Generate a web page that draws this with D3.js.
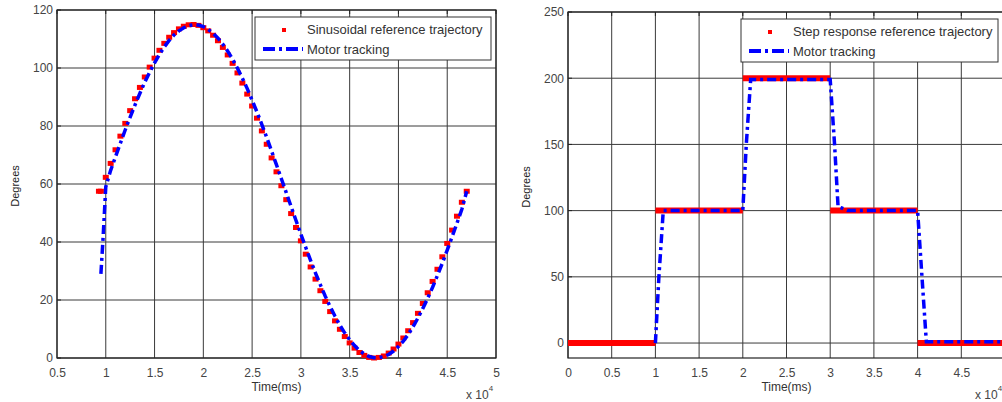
<!DOCTYPE html>
<html>
<head>
<meta charset="utf-8">
<script src="https://cdn.jsdelivr.net/npm/d3@7"></script>
<style>
  body { margin: 0; background: #fff; }
  svg { display: block; font-family: "Liberation Sans", Arial, sans-serif; }
</style>
</head>
<body>
<svg id="chart" width="1002" height="402"></svg>
<script>
// sinusoid reference (time in 1e4 ms, degrees)
var sinRefT = [0.93, 0.95, 1.0, 1.05, 1.1, 1.15, 1.2, 1.25, 1.3, 1.35, 1.4, 1.45, 1.5, 1.55, 1.6, 1.65, 1.7, 1.75, 1.8, 1.85,
  1.9, 1.95, 2.0, 2.05, 2.1, 2.15, 2.2, 2.25, 2.3, 2.35, 2.4, 2.45, 2.5, 2.55, 2.6, 2.65, 2.7, 2.75, 2.8, 2.85,
  2.9, 2.95, 3.0, 3.05, 3.1, 3.15, 3.2, 3.25, 3.3, 3.35, 3.4, 3.45, 3.5, 3.55, 3.6, 3.65, 3.7, 3.75, 3.8, 3.85,
  3.9, 3.95, 4.0, 4.05, 4.1, 4.15, 4.2, 4.25, 4.3, 4.35, 4.4, 4.45, 4.5, 4.55, 4.6, 4.65, 4.7];
var sinRefV = [57.5, 57.5, 62.3, 67.1, 71.8, 76.5, 80.9, 85.3, 89.4, 93.3, 96.9, 100.3, 103.4, 106.1, 108.5, 110.6, 112.2, 113.5, 114.4, 114.9,
  115.0, 114.7, 113.9, 112.8, 111.3, 109.4, 107.1, 104.5, 101.6, 98.3, 94.8, 91.0, 86.9, 82.7, 78.3, 73.7, 69.0, 64.2, 59.4, 54.6,
  49.8, 45.0, 40.4, 35.8, 31.4, 27.2, 23.2, 19.5, 16.0, 12.8, 9.9, 7.4, 5.2, 3.4, 1.9, 0.9, 0.2, 0.0, 0.2, 0.7,
  1.7, 3.1, 4.8, 6.9, 9.4, 12.2, 15.4, 18.8, 22.5, 26.4, 30.6, 34.9, 39.5, 44.1, 48.9, 53.7, 57.5];

// motor tracking on the sinusoid
var sinMotT = [0.95, 0.97, 1.0, 1.05, 1.1, 1.15, 1.2, 1.25, 1.3, 1.35, 1.4, 1.45, 1.5, 1.55, 1.6, 1.65, 1.7, 1.75, 1.8, 1.85,
  1.9, 1.95, 2.0, 2.05, 2.1, 2.15, 2.2, 2.25, 2.3, 2.35, 2.4, 2.45, 2.5, 2.55, 2.6, 2.65, 2.7, 2.75, 2.8, 2.85,
  2.9, 2.95, 3.0, 3.05, 3.1, 3.15, 3.2, 3.25, 3.3, 3.35, 3.4, 3.45, 3.5, 3.55, 3.6, 3.65, 3.7, 3.75, 3.8, 3.85,
  3.9, 3.95, 4.0, 4.05, 4.1, 4.15, 4.2, 4.25, 4.3, 4.35, 4.4, 4.45, 4.5, 4.55, 4.6, 4.65, 4.68, 4.7];
var sinMotV = [29, 40, 59, 64.7, 69.4, 74.1, 78.7, 83.1, 87.3, 91.3, 95.1, 98.6, 101.8, 104.7, 107.3, 109.5, 111.4, 112.8, 113.9, 114.6,
  114.9, 114.8, 114.3, 113.3, 112.0, 110.3, 108.2, 105.8, 103.0, 99.9, 96.5, 92.9, 88.9, 84.8, 80.5, 76.0, 71.3, 66.6, 61.8, 57.0,
  52.2, 47.4, 42.7, 38.1, 33.6, 29.3, 25.2, 21.3, 17.7, 14.4, 11.3, 8.6, 6.3, 4.3, 2.6, 1.4, 0.5, 0.1, 0.1, 0.5,
  1.2, 2.4, 4.0, 5.8, 8.1, 10.8, 13.8, 17.1, 20.6, 24.4, 28.5, 32.7, 37.2, 41.8, 46.5, 51.3, 55.0, 57.5];

// step reference: levels held between start and end times
var stepStart = [0, 1, 2, 3, 4];
var stepEnd = [1, 2, 3, 4, 5];
var stepLevel = [0, 100, 200, 100, 0];

// motor tracking on the step
var stepMotT = [1.0, 1.04, 1.09, 2.0, 2.04, 2.09, 3.0, 3.05, 3.09, 3.13, 3.2, 4.0, 4.05, 4.1, 5.0];
var stepMotV = [0, 50, 100, 100, 150, 199, 199, 150, 103, 102, 100, 100, 50, 1, 1];

var sinXTicks = [0.5, 1, 1.5, 2, 2.5, 3, 3.5, 4, 4.5, 5];
var stepXTicks = [0, 0.5, 1, 1.5, 2, 2.5, 3, 3.5, 4, 4.5];
var sinYTicks = [0, 20, 40, 60, 80, 100, 120];
var stepYTicks = [0, 50, 100, 150, 200, 250];

var svg = d3.select("#chart");
var blueDash = "9,4,3,4";

function drawAxes(g, x, y, xt, yt) {
  var x0 = x.range()[0], x1 = x.range()[1];
  var y0 = y.range()[0], y1 = y.range()[1];

  // grid
  g.selectAll(".vg").data(xt).enter().append("line")
    .attr("x1", function(d) { return x(d); }).attr("x2", function(d) { return x(d); })
    .attr("y1", y0).attr("y2", y1)
    .attr("stroke", "#3a3a3a").attr("stroke-width", 1);
  g.selectAll(".hg").data(yt).enter().append("line")
    .attr("x1", x0).attr("x2", x1)
    .attr("y1", function(d) { return y(d); }).attr("y2", function(d) { return y(d); })
    .attr("stroke", "#3a3a3a").attr("stroke-width", 1);

  // box
  g.append("rect").attr("x", x0).attr("y", y1)
    .attr("width", x1 - x0).attr("height", y0 - y1)
    .attr("fill", "none").attr("stroke", "#222").attr("stroke-width", 1.2);

  var xa = g.append("g").attr("transform", "translate(0," + y0 + ")")
    .call(d3.axisBottom(x).tickValues(xt).tickSize(0).tickPadding(10).tickFormat(d3.format("")));
  var ya = g.append("g").attr("transform", "translate(" + x0 + ",0)")
    .call(d3.axisLeft(y).tickValues(yt).tickSize(0).tickPadding(4));
  [xa, ya].forEach(function(a) {
    a.select(".domain").remove();
    a.selectAll("text").attr("fill", "#444").style("font-size", "12px")
      .style("font-family", "Liberation Sans, Arial, sans-serif");
  });

  // small ticks on edges
  g.selectAll(".tk").data(xt).enter().append("line")
    .attr("x1", function(d) { return x(d); }).attr("x2", function(d) { return x(d); })
    .attr("y1", y1).attr("y2", y1 + 4).attr("stroke", "#222");
  g.selectAll(".tl").data(yt).enter().append("line")
    .attr("x1", x0).attr("x2", x0 + 4)
    .attr("y1", function(d) { return y(d); }).attr("y2", function(d) { return y(d); })
    .attr("stroke", "#222");

  g.append("text").attr("x", (x0 + x1) / 2).attr("y", 391)
    .attr("text-anchor", "middle").attr("fill", "#333").style("font-size", "12px").text("Time(ms)");
  g.append("text").attr("transform", "translate(" + (x0 - 38) + "," + ((y0 + y1) / 2 + 2) + ") rotate(-90)")
    .attr("text-anchor", "middle").attr("fill", "#222").style("font-size", "11px").text("Degrees");
  var e = g.append("text").attr("x", x1 - 30).attr("y", 399).attr("fill", "#444").style("font-size", "12px");
  e.append("tspan").text("x 10");
  e.append("tspan").attr("dy", -8).style("font-size", "8px").text("4");
}

function legend(g, x, y, w, h, refText) {
  g.append("rect").attr("x", x).attr("y", y).attr("width", w).attr("height", h)
    .attr("fill", "#fff").attr("stroke", "#333").attr("stroke-width", 1);
  g.append("rect").attr("x", x + 27).attr("y", y + 11).attr("width", 4).attr("height", 4).attr("fill", "#ff0000");
  g.append("text").attr("x", x + 52).attr("y", y + 17).attr("fill", "#333").style("font-size", "13px").text(refText);
  g.append("line").attr("x1", x + 8).attr("x2", x + 48).attr("y1", y + 32).attr("y2", y + 32)
    .attr("stroke", "#0000ff").attr("stroke-width", 4).attr("stroke-dasharray", "12,4,3,4");
  g.append("text").attr("x", x + 52).attr("y", y + 37).attr("fill", "#333").style("font-size", "13px").text("Motor tracking");
}

// ---- left: sinusoid
var xs = d3.scaleLinear().domain([0.5, 5]).range([57, 496]);
var ys = d3.scaleLinear().domain([0, 120]).range([358, 10]);
var g1 = svg.append("g");
drawAxes(g1, xs, ys, sinXTicks, sinYTicks);

var sinRef = sinRefT.map(function(t, i) { return [t, sinRefV[i]]; });
var sinMot = sinMotT.map(function(t, i) { return [t, sinMotV[i]]; });

g1.selectAll(".rp").data(sinRef).enter().append("rect")
  .attr("x", function(d) { return xs(d[0]) - 3; }).attr("y", function(d) { return ys(d[1]) - 2.5; })
  .attr("width", 6).attr("height", 5).attr("fill", "#ff0000");
g1.append("path").datum(sinMot)
  .attr("d", d3.line().x(function(d) { return xs(d[0]); }).y(function(d) { return ys(d[1]); }))
  .attr("fill", "none").attr("stroke", "#0000ff").attr("stroke-width", 3.5)
  .attr("stroke-dasharray", blueDash);
legend(g1, 255, 17, 236, 43, "Sinusoidal reference trajectory");

// ---- right: step (right edge lies just past the picture)
var xr = d3.scaleLinear().domain([0, 5]).range([568, 1005]);
var yr = d3.scaleLinear().domain([-11.3, 250]).range([358, 12]);
var g2 = svg.append("g");
drawAxes(g2, xr, yr, stepXTicks, stepYTicks);

var steps = stepStart.map(function(s, i) { return { a: s, b: stepEnd[i], v: stepLevel[i] }; });
g2.selectAll(".st").data(steps).enter().append("line")
  .attr("x1", function(d) { return xr(d.a); }).attr("x2", function(d) { return xr(d.b); })
  .attr("y1", function(d) { return yr(d.v); }).attr("y2", function(d) { return yr(d.v); })
  .attr("stroke", "#ff0000").attr("stroke-width", 6);
var stepMot = stepMotT.map(function(t, i) { return [t, stepMotV[i]]; });
g2.append("path").datum(stepMot)
  .attr("d", d3.line().x(function(d) { return xr(d[0]); }).y(function(d) { return yr(d[1]); }))
  .attr("fill", "none").attr("stroke", "#0000ff").attr("stroke-width", 3.5)
  .attr("stroke-dasharray", blueDash);
legend(g2, 741, 19, 257, 43, "Step response reference trajectory");
</script>
</body>
</html>
